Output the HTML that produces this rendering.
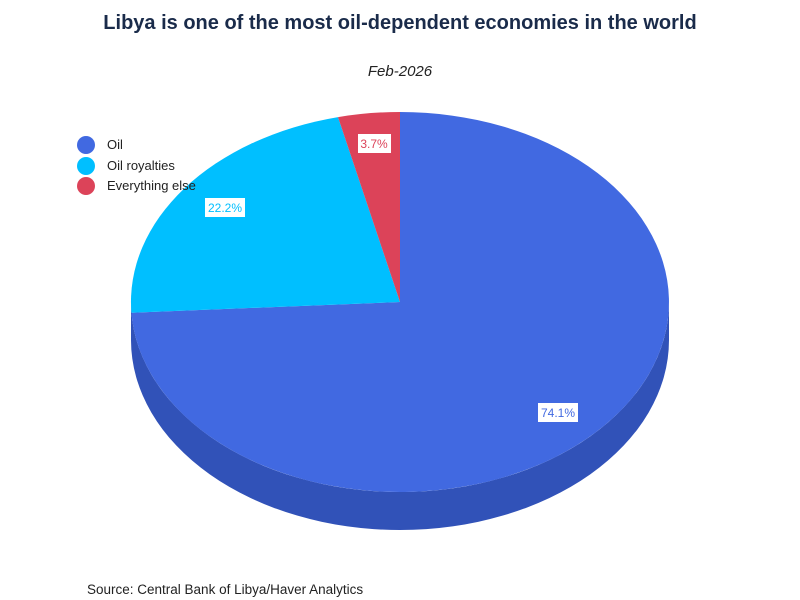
<!DOCTYPE html>
<html><head><meta charset="utf-8"><style>
body{margin:0;background:#fff;}
svg{display:block;font-family:"Liberation Sans",sans-serif;}
</style></head><body>
<svg width="800" height="600" viewBox="0 0 800 600">
<rect width="800" height="600" fill="#fff"/>
<text x="400" y="29" text-anchor="middle" font-size="20" font-weight="bold" fill="#1a2b4a">Libya is one of the most oil-dependent economies in the world</text>
<text x="400" y="76" text-anchor="middle" font-size="15" font-style="italic" fill="#222">Feb-2026</text>
<path d="M131,302 A269 190 0 0 0 669 302 L669 340 A269 190 0 0 1 131 340 Z" fill="#3152b8"/>
<path d="M400,302 L400,112 A269 190 0 1 1 131.4,312.7 Z" fill="#4169e1"/>
<path d="M400,302 L131.4,312.7 A269 190 0 0 1 338,117.1 Z" fill="#00bfff"/>
<path d="M400,302 L338,117.1 A269 190 0 0 1 400,112 Z" fill="#dc4359"/>
<rect x="538" y="403" width="40" height="19" fill="#fff"/>
<text x="558" y="417" text-anchor="middle" font-size="12" fill="#4169e1">74.1%</text>
<rect x="205" y="198" width="40" height="19" fill="#fff"/>
<text x="225" y="212" text-anchor="middle" font-size="12" fill="#00bfff">22.2%</text>
<rect x="358" y="134" width="33" height="19" fill="#fff"/>
<text x="374" y="148" text-anchor="middle" font-size="12" fill="#dc4359">3.7%</text>
<circle cx="86" cy="145" r="9" fill="#4169e1"/>
<circle cx="86" cy="166" r="9" fill="#00bfff"/>
<circle cx="86" cy="186" r="9" fill="#dc4359"/>
<text x="107" y="149" font-size="13" fill="#222">Oil</text>
<text x="107" y="170" font-size="13" fill="#222">Oil royalties</text>
<text x="107" y="190" font-size="13" fill="#222">Everything else</text>
<text x="87" y="594" font-size="13.5" fill="#222">Source:  Central Bank of Libya/Haver Analytics</text>
</svg>
</body></html>
